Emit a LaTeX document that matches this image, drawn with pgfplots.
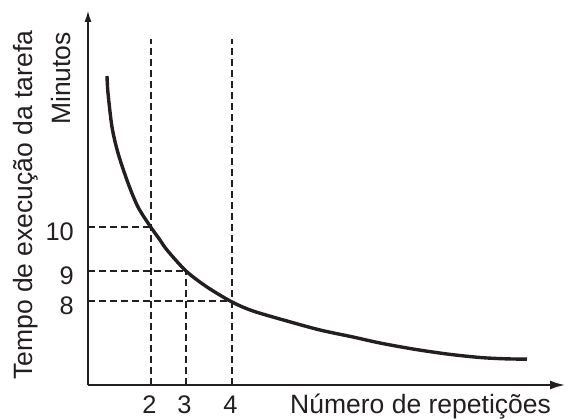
\documentclass[border=0pt]{standalone}
\usepackage{pgfplots}
\pgfplotsset{compat=1.18}
\usepackage{fontspec}
\setmainfont{Liberation Sans}
\usetikzlibrary{arrows.meta}
\definecolor{ink}{HTML}{231F20}
\begin{document}
\begin{tikzpicture}
\useasboundingbox (0,0) rectangle (569bp,419bp);
\begin{axis}[
  at={(88bp,34bp)}, anchor=south west,
  x=1bp, y=1bp,
  xmin=88, xmax=565, ymin=34, ymax=409,
  enlargelimits=false,
  axis x line=bottom, axis y line=left,
  x axis line style={ink, line width=2bp, -{Latex[length=15bp,width=9bp]}},
  y axis line style={ink, line width=2bp, -{Latex[length=12bp,width=7bp]}},
  xtick={151,186,232}, xticklabels={2,3,4},
  ytick={192,148,118}, yticklabels={10,9,8},
  major tick length=0pt,
  tick style={draw=none},
  /pgf/number format/assume math mode=true,
  xticklabel style={anchor=base, inner sep=0pt, yshift=-28.5bp, xshift=-1.5bp, text=ink, font=\fontsize{25.5}{30}\selectfont},
  yticklabel style={anchor=east, inner sep=0pt, xshift=-14bp, yshift=-4.5bp, text=ink, font=\fontsize{25.5}{30}\selectfont},
  clip=false,
]
% dashed guide lines
\addplot[ink, line width=1.5bp, dash pattern=on 7bp off 4bp] coordinates {(88,192) (151,192)};
\addplot[ink, line width=1.5bp, dash pattern=on 7bp off 4bp] coordinates {(88,148) (186,148)};
\addplot[ink, line width=1.5bp, dash pattern=on 7bp off 4bp] coordinates {(88,118) (232,118)};
\addplot[ink, line width=1.5bp, dash pattern=on 7bp off 4bp] coordinates {(151,34) (151,380)};
\addplot[ink, line width=1.5bp, dash pattern=on 7bp off 4bp] coordinates {(186,34) (186,148)};
\addplot[ink, line width=1.5bp, dash pattern=on 7bp off 4bp] coordinates {(232,34) (232,380)};
% curve
\addplot[ink, line width=3.4bp, smooth] coordinates {
(107,343) (108,326) (112,292) (118,266) (128,236) (138,212) (150,193)
(160,179) (167,169) (186,148) (207,132) (232,117) (253,108) (287,98)
(320,89) (353,82) (380,76) (413,70) (447,65) (480,61.5) (505,60.2) (527,59.8)};
\node[rotate=90, anchor=base west, inner sep=0pt, text=ink, font=\fontsize{26.6}{30}\selectfont] at (axis cs:33,39) {Tempo de execução da tarefa};
\node[rotate=90, anchor=base west, inner sep=0pt, text=ink, font=\fontsize{26.6}{30}\selectfont] at (axis cs:71,294) {Minutos};
\node[anchor=base west, inner sep=0pt, text=ink, font=\fontsize{26.6}{30}\selectfont] at (axis cs:290,6) {Número de repetições};
\end{axis}
\end{tikzpicture}
\end{document}
